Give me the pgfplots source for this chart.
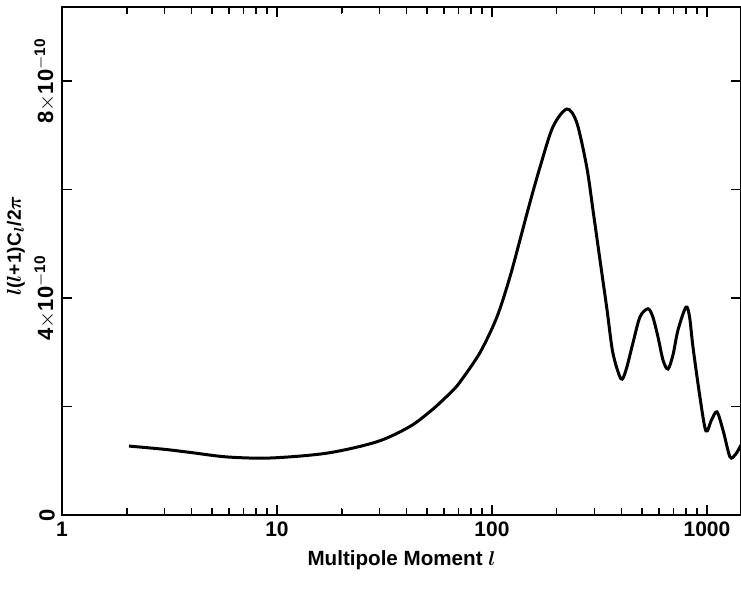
\documentclass[border=0pt]{standalone}
\usepackage{pgfplots}
\pgfplotsset{compat=1.18}
\usepackage{fontspec}
\setmainfont{Liberation Sans}
\begin{document}
\begin{tikzpicture}
\begin{axis}[
  scale only axis, width=339.5pt, height=254pt,
  xmode=log, xmin=1, xmax=1440, ymin=0, ymax=9.36,
  axis line style={line width=1pt},
  tick style={line width=0.8pt, black},
  major tick length=5pt,
  tick align=inside,
  xtick={1,10,100,1000}, xticklabels={1,10,100,1000},
  ytick={0,2,4,6,8},
  yticklabels={0,,4$\times$10\textsuperscript{$-$10},,8$\times$10\textsuperscript{$-$10}},
  y tick label style={rotate=90, anchor=south, font=\fontsize{11}{12}\selectfont\bfseries},
  x tick label style={font=\fontsize{10.5}{12}\selectfont\bfseries},
  xlabel={Multipole Moment {\boldmath$l$}},
  ylabel={{\boldmath$l$}({\boldmath$l$}+1)C\textsubscript{\boldmath$l$}/2{\boldmath$\pi$}},
  xlabel style={font=\fontsize{10.3}{12}\selectfont\bfseries},
  ylabel style={font=\fontsize{9.6}{12}\selectfont\bfseries, at={(axis description cs:-0.068,0.53)}, anchor=center},
  clip=false,
]
\addplot[line width=1.5pt, black, smooth, tension=0.5] coordinates {
(2.05,1.27) (3,1.21) (4,1.15) (5.85,1.07) (9.28,1.05) (17.1,1.14) (29.2,1.35)
(41.5,1.63) (52,1.92) (59.2,2.12) (65.9,2.30) (71,2.45) (87.9,2.99)
(105.5,3.65) (121.3,4.39) (135,5.07) (150,5.75) (167,6.40) (192,7.15)
(223,7.48) (248,7.23) (276,6.41) (295,5.62) (318,4.70) (343,3.78)
(365,2.99) (398,2.51)
(420,2.67) (452.6,3.17) (488,3.65) (531.7,3.80) (560,3.65) (591.8,3.28)
(625,2.85) (658.9,2.69) (695,2.95) (733.5,3.41) (798.5,3.83) (830,3.65)
(860.6,3.10) (927,2.18) (988.7,1.55) (1050,1.75) (1113,1.90) (1190,1.55)
(1280,1.07) (1360,1.12) (1440,1.29)
};
\pgfplotsinvokeforeach{2,3,4,5,6,7,8,9,20,30,40,50,60,70,80,90,200,300,400,500,600,700,800,900}{
  \draw[line width=0.8pt, black] (axis cs:#1,0) -- (axis cs:#1,0.12);
  \draw[line width=0.8pt, black] (axis cs:#1,9.36) -- (axis cs:#1,9.24);
}
\coordinate (bl) at (rel axis cs:0,0);
\coordinate (tr) at (rel axis cs:1,1);
\end{axis}
\pgfresetboundingbox
\path[use as bounding box] ([xshift=-31pt,yshift=-39.5pt]bl) rectangle ([yshift=3.5pt]tr);
\end{tikzpicture}
\end{document}
